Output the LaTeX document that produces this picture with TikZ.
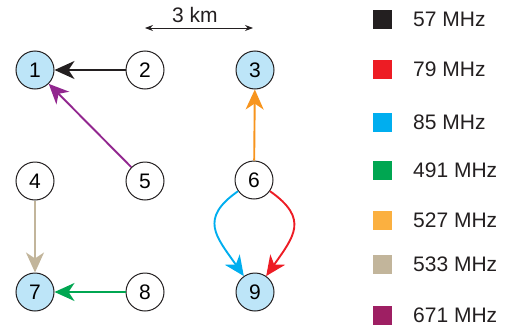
\documentclass[tikz,border=0pt]{standalone}
\usepackage{fontspec}
\setmainfont{Liberation Sans}
\usetikzlibrary{arrows.meta}
\definecolor{fqBlack}{HTML}{231F20}
\definecolor{fqRed}{HTML}{ED1C24}
\definecolor{fqCyan}{HTML}{00AEEF}
\definecolor{fqGreen}{HTML}{00A651}
\definecolor{fqOrange}{HTML}{F7941D}
\definecolor{fqOrangeKey}{HTML}{FBB040}
\definecolor{fqTan}{HTML}{C2B59B}
\definecolor{fqPurple}{HTML}{92278F}
\definecolor{fqPurpleKey}{HTML}{9E1F63}
\definecolor{rxFill}{HTML}{BDE5F8}
\tikzset{
  site/.style={circle, draw=fqBlack, line width=1pt, fill=white, minimum size=38pt, inner sep=0pt, font=\fontsize{21}{21}\selectfont},
  rx/.style={site, fill=rxFill},
  link/.style={line width=1.9pt, -{Stealth[length=20pt, width=18pt, inset=6pt]}},
  keybox/.style={minimum size=19pt, inner sep=0pt},
  keytext/.style={anchor=west, inner sep=0pt, text=fqBlack, font=\fontsize{21}{21}\selectfont}
}
\begin{document}
\begin{tikzpicture}[x=1pt, y=1pt]
\useasboundingbox (0,0) rectangle (513,333);
% Stations
\node[rx]   (n1) at (35,263) {1};
\node[site] (n2) at (145,263) {2};
\node[rx]   (n3) at (255,263) {3};
\node[site] (n4) at (35,152) {4};
\node[site] (n5) at (145,152) {5};
\node[site] (n6) at (254,153) {6};
\node[rx]   (n7) at (35,41) {7};
\node[site] (n8) at (145,41) {8};
\node[rx]   (n9) at (255,41) {9};
% Links
\draw[link, fqBlack]  (n2) -- (n1);
\draw[link, fqPurple] (n5) -- (n1);
\draw[link, fqOrange] (n6) -- (n3);
\draw[link, fqTan]    (n4) -- (n7);
\draw[link, fqGreen]  (n8) -- (n7);
\draw[link, fqCyan]   (n6) to[out=-145, in=125, looseness=1.45] (n9);
\draw[link, fqRed]    (n6) to[out=-35, in=55, looseness=1.45] (n9);
% Scale bar
\coordinate (scaleL) at (145,305);
\coordinate (scaleR) at (253,305);
\draw[fqBlack, line width=0.8pt, {Stealth[length=8pt, width=6pt]}-{Stealth[length=8pt, width=6pt]}] (scaleL) -- (scaleR);
\node[inner sep=0pt, text=fqBlack, font=\fontsize{21}{21}\selectfont] (scale) at (195,318) {3 km};
% Key
\foreach \col/\yy/\lbl [count=\i] in {fqBlack/313.5/57, fqRed/263.5/79, fqCyan/211/85, fqGreen/163/491, fqOrangeKey/113/527, fqTan/69/533, fqPurpleKey/18/671} {
  \node[keybox, fill=\col] (key\i) at (382.5,\yy) {};
  \node[keytext] (lbl\i) at (413,\yy) {\lbl{} MHz};
}
\end{tikzpicture}
\end{document}
